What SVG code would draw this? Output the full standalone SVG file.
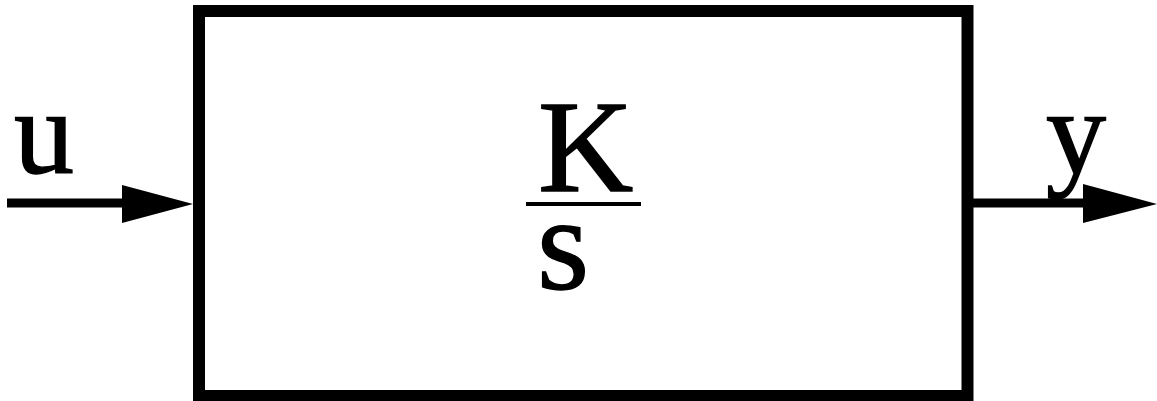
<svg xmlns="http://www.w3.org/2000/svg" width="1157" height="401" viewBox="0 0 1157 401">
<style>
.ln{stroke:#000;stroke-width:9;fill:none}
.t{font-family:"Liberation Serif","Times New Roman",serif;fill:#000;stroke:#000;stroke-width:1.4}
</style>
<rect width="1157" height="401" fill="#fff"/>
<g id="connectors">
<line class="ln" x1="7" y1="203" x2="126" y2="203"/>
<polygon points="122,185 193,204 122,223" fill="#000"/>
<line class="ln" x1="967" y1="203" x2="1086" y2="203"/>
<polygon points="1083,184 1157,204 1083,223" fill="#000"/>
</g>
<g id="block">
<rect x="199" y="11" width="768.5" height="385" fill="none" stroke="#000" stroke-width="12"/>
<text class="t" x="538" y="191" font-size="132">K</text>
<line x1="526" y1="204" x2="641" y2="204" stroke="#000" stroke-width="4"/>
<text class="t" x="537" y="289" font-size="134">s</text>
</g>
<g id="input"><text class="t" x="14" y="173" font-size="120">u</text></g>
<g id="output"><text class="t" x="1046" y="173" font-size="120">y</text></g>
</svg>
